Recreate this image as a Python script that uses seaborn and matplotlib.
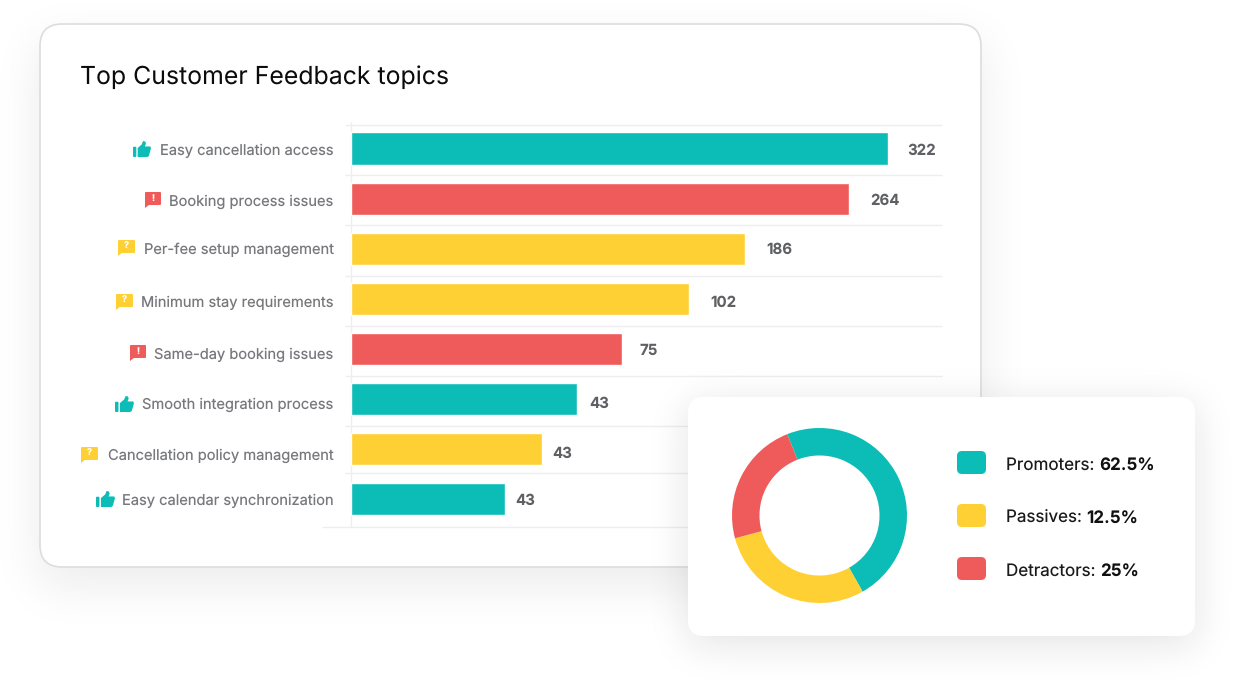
import numpy as np
import pandas as pd
import matplotlib
matplotlib.use("Agg")
import matplotlib.pyplot as plt
from matplotlib.patches import FancyBboxPatch, Polygon
from matplotlib.transforms import ScaledTranslation
import seaborn as sns

# ---- data ----
topics = ["Easy cancellation access", "Booking process issues", "Per-fee setup management",
          "Minimum stay requirements", "Same-day booking issues", "Smooth integration process",
          "Cancellation policy management", "Easy calendar synchronization"]
shown_counts = [322, 264, 186, 102, 75, 43, 43, 43]
bar_lengths = [537, 498, 394, 338, 271, 226, 191, 154]
sentiment = ["Promoter", "Detractor", "Passive", "Passive", "Detractor", "Promoter", "Passive", "Promoter"]
donut_groups = ["Promoters", "Passives", "Detractors"]
donut_shown = ["62.5%", "12.5%", "25%"]
donut_sweep = [47.8, 29.0, 23.2]

# ---- styling / layout (pixels) ----
W, H = 1246, 699
TEAL, YELLOW, RED = "#0BBDB6", "#FFD033", "#EF5B5A"
palette = {"Promoter": TEAL, "Passive": YELLOW, "Detractor": RED}
GRID = "#EEEEF2"
FONT = ["Inter", "DejaVu Sans"]
sns.set_theme(style="white")
plt.rcParams["font.family"] = FONT
plt.rcParams["text.hinting"] = "no_hinting"
plt.rcParams["text.hinting_factor"] = 1

fig = plt.figure(figsize=(W / 100, H / 100), dpi=100, facecolor="white")


def px_axes(x0, y0, x1, y1, z):
    return fig.add_axes([x0 / W, 1 - y1 / H, (x1 - x0) / W, (y1 - y0) / H], zorder=z)


def overlay(z):
    a = px_axes(0, 0, W, H, z)
    a.set_xlim(0, W)
    a.set_ylim(H, 0)
    a.axis("off")
    a.patch.set_alpha(0)
    return a


def shadow(a, x0, y0, x1, y1, sigma, strength, dy):
    t = np.arange(-3 * sigma, 3 * sigma + 1)
    k = np.exp(-t ** 2 / (2 * sigma ** 2))
    k /= k.sum()
    px = np.convolve(((np.arange(W) >= x0) & (np.arange(W) < x1)).astype(float), k, "same")
    py = np.convolve(((np.arange(H) >= y0 + dy) & (np.arange(H) < y1 + dy)).astype(float), k, "same")
    img = np.zeros((H, W, 4))
    img[..., :3] = 0.1
    img[..., 3] = strength * np.outer(py, px)
    a.imshow(img, extent=(0, W, H, 0), aspect="auto", interpolation="bilinear", zorder=0)
    a.set_xlim(0, W)
    a.set_ylim(H, 0)


def card(a, x0, y0, x1, y1, r, edge=None, lw=0, z=1):
    a.add_patch(FancyBboxPatch((x0 + r, y0 + r), x1 - x0 - 2 * r, y1 - y0 - 2 * r,
                               boxstyle=f"round,pad={r},rounding_size={r}",
                               fc="white", ec=edge or "none", lw=lw, zorder=z))


def bubble(a, x0, y0, x1, y1, color, sign):
    a.add_patch(FancyBboxPatch((x0 + 1, y0 + 1), x1 - x0 - 2, y1 - y0 - 5,
                               boxstyle="round,pad=1,rounding_size=1", fc=color, ec="none", zorder=4))
    a.add_patch(Polygon([(x0, y1), (x0, y1 - 5), (x0 + 5, y1 - 4)], fc=color, ec="none", zorder=4))
    a.text((x0 + x1) / 2, (y0 + y1 - 3) / 2, sign, color="white", fontsize=6.5, fontweight="bold",
           ha="center", va="center", zorder=5)


def thumb(a, x0, y0, x1, y1, color):
    w, h = x1 - x0, y1 - y0
    a.add_patch(FancyBboxPatch((x0 + 1, y0 + 0.42 * h), 0.13 * w - 1, 0.58 * h - 1,
                               boxstyle="round,pad=1,rounding_size=1", fc=color, ec="none", zorder=4))
    pts = [(0.26, 0.44), (0.48, 0.22), (0.56, 0.0), (0.68, 0.03), (0.72, 0.16), (0.66, 0.34),
           (0.96, 0.34), (1.0, 0.45), (0.88, 0.94), (0.8, 1.0), (0.26, 1.0)]
    a.add_patch(Polygon([(x0 + p * w, y0 + q * h) for p, q in pts], fc=color, ec="none", zorder=4))


# ---- back layer: main card ----
back = overlay(0)
shadow(back, 40, 24, 981, 567, 24, 0.085, 18)
card(back, 40, 24, 981, 567, 22, edge="#DDDDDD", lw=1.2)
back.text(80.5, 77.5, "Top Customer Feedback topics", fontsize=17.9, color="#0B0B0B", va="center", ha="left", zorder=3)
for y, x_start in zip([125, 175, 225, 276, 326, 376, 426, 473, 527], [345] * 8 + [322]):
    back.plot([x_start, 942], [y, y], color=GRID, lw=1, zorder=2, solid_capstyle="butt")
back.plot([351, 351], [122, 527], color=GRID, lw=1, zorder=2, solid_capstyle="butt")

icon_boxes = [("t", 133, 141, 151, 157, TEAL), ("b", 145, 192, 161, 208, RED), ("q", 118, 240, 135, 256, YELLOW),
              ("q", 116, 294, 133, 310, YELLOW), ("b", 130, 345, 146, 361, RED), ("t", 115, 396, 134, 412, TEAL),
              ("q", 81, 447, 98, 463, YELLOW), ("t", 96, 491, 115, 507, TEAL)]
for kind, x0, y0, x1, y1, col in icon_boxes:
    if kind == "t":
        thumb(back, x0, y0, x1, y1, col)
    else:
        bubble(back, x0, y0, x1, y1, col, "!" if kind == "b" else "?")

# ---- bars ----
df = pd.DataFrame({"topic": topics, "length": bar_lengths, "sentiment": sentiment})
ax = px_axes(350.5, 124, 940.5, 526, 1)
ax.patch.set_alpha(0)
sns.barplot(data=df, y="topic", x="length", hue="sentiment", palette=palette, order=topics,
            dodge=False, width=0.64, legend=False, ax=ax, saturation=1)
ax.set_xlim(0, 590)
ax.set_ylim(7.535, -0.489)
ax.set_xlabel("")
ax.set_ylabel("")
ax.set_xticks([])
sns.despine(ax=ax, left=True, bottom=True)
ax.tick_params(axis="y", length=0, pad=12.2, labelsize=10.55, labelcolor="#77787C")
label_nudge = [-1, -2, 1, -3, -4, -4, -5, 0]
for lab, dy in zip(ax.get_yticklabels(), label_nudge):
    lab.set_transform(lab.get_transform() + ScaledTranslation(0, dy / 100, fig.dpi_scale_trans))
value_gap = [20, 22, 22, 22, 18, 13, 11, 11]
value_nudge = [-2, -2, -1, -4, -2, -5, -5, -2]
for i, (length, n, g, dy) in enumerate(zip(bar_lengths, shown_counts, value_gap, value_nudge)):
    ax.annotate(str(n), xy=(length, i), xytext=(g, dy), textcoords="offset pixels", fontsize=10.85,
                fontweight="bold", color="#5F6063", va="center", ha="left")

# ---- front layer: donut card ----
front = overlay(2)
shadow(front, 688, 397, 1195, 636, 20, 0.12, 8)
card(front, 688, 397, 1195, 636, 16)
swatch_tops = [451, 504, 557]
for top, col, name, val in zip(swatch_tops, [TEAL, YELLOW, RED], donut_groups, donut_shown):
    front.add_patch(FancyBboxPatch((962, top + 5), 19, 13, boxstyle="round,pad=5,rounding_size=5",
                                   fc=col, ec="none", zorder=3))
    t = front.text(1006, top + 18.4, f"{name}: ", fontsize=12.25, color="#1A1A1A", va="baseline", ha="left", zorder=3)
    front.annotate(val, xy=(1, 0), xycoords=t, xytext=(0, 0), textcoords="offset pixels", fontsize=12.25,
                   fontweight="bold", color="#111111", va="bottom", ha="left", zorder=3)

pie_ax = px_axes(732, 428, 907, 603, 3)
pie_ax.pie(donut_sweep, colors=[TEAL, YELLOW, RED], startangle=111.6, counterclock=False, radius=1,
           wedgeprops={"width": 0.314, "linewidth": 0})
pie_ax.set_xlim(-1, 1)
pie_ax.set_ylim(-1, 1)

fig.savefig("out.png", dpi=100, facecolor="white")
